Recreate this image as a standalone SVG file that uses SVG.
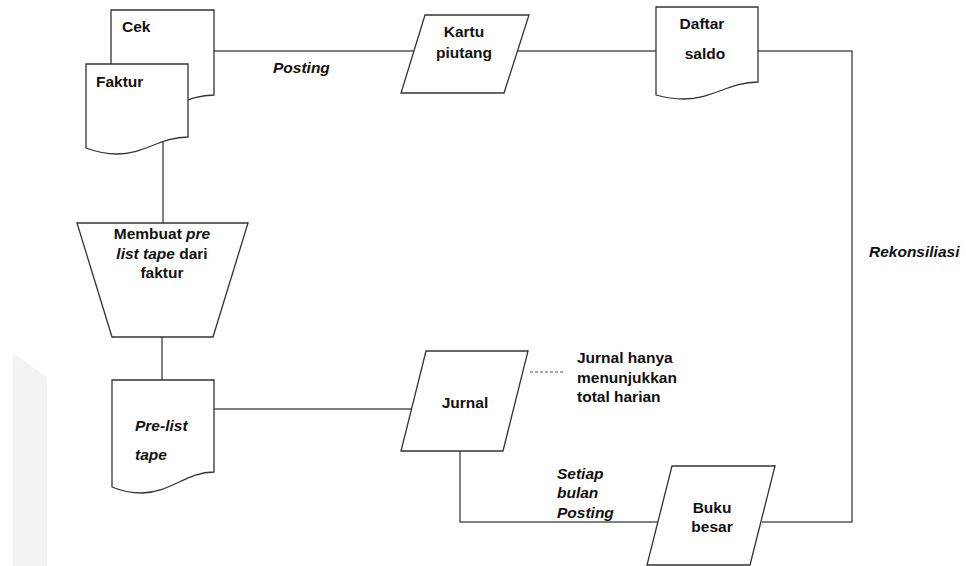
<svg xmlns="http://www.w3.org/2000/svg" width="966" height="566" viewBox="0 0 966 566">
  <style>
    .shape { fill: #ffffff; stroke: #333333; stroke-width: 1.3; }
    .link { fill: none; stroke: #555555; stroke-width: 1.5; }
    .note { fill: none; stroke: #555555; stroke-width: 1.2; stroke-dasharray: 3 2; }
    text { font-family: "Liberation Sans", Arial, sans-serif; font-size: 15.5px; font-weight: bold; fill: #111111; }
    .c { text-anchor: middle; }
    .i { font-style: italic; }
  </style>

  <!-- faint background band at the left edge -->
  <path d="M13,353 L47,377 V566 H13 Z" fill="#f3f3f3"/>

  <g id="connectors">
    <!-- Cek / Faktur to Kartu piutang -->
    <path class="link" d="M214,51 H414"/>
    <!-- Kartu piutang to Daftar saldo -->
    <path class="link" d="M518,51 H656"/>
    <!-- Daftar saldo to Buku besar (reconciliation) -->
    <path class="link" d="M758,51 H852 V522 H762"/>
    <!-- Faktur to pre-list process -->
    <path class="link" d="M163,140 V223"/>
    <!-- process to Pre-list tape -->
    <path class="link" d="M162,337 V380"/>
    <!-- Pre-list tape to Jurnal -->
    <path class="link" d="M214,409 H414"/>
    <!-- Jurnal to Buku besar -->
    <path class="link" d="M460,451 V522 H658"/>
    <!-- annotation -->
    <path class="note" d="M530,372 H563"/>
  </g>

  <g id="cek">
    <path class="shape" d="M111,10 H214 V95 C186,95 171,112 143,112 C129,112 120,109 111,106 Z"/>
    <text x="122" y="32">Cek</text>
  </g>

  <g id="faktur">
    <path class="shape" d="M86,64 H188 V137 C160,137 145,154 117,154 C103,154 94,151 86,148 Z"/>
    <text x="96" y="87">Faktur</text>
  </g>

  <g id="label-posting">
    <text class="i" x="273" y="73">Posting</text>
  </g>

  <g id="kartu-piutang">
    <path class="shape" d="M425,15 H529 L504,93 H401 Z"/>
    <text class="c" x="464" y="37">Kartu</text>
    <text class="c" x="464" y="58">piutang</text>
  </g>

  <g id="daftar-saldo">
    <path class="shape" d="M656,7 H758 V82 C730,82 712,99 684,99 C670,99 663,97 656,95 Z"/>
    <text class="c" x="702" y="29">Daftar</text>
    <text class="c" x="705" y="59">saldo</text>
  </g>

  <g id="label-rekonsiliasi">
    <text class="i" x="869" y="257">Rekonsiliasi</text>
  </g>

  <g id="membuat-pre-list">
    <path class="shape" d="M77,223 H248 L213,337 H112 Z"/>
    <text class="c" x="162" y="239">Membuat <tspan class="i">pre</tspan></text>
    <text class="c" x="162" y="259"><tspan class="i">list tape</tspan> dari</text>
    <text class="c" x="162" y="278">faktur</text>
  </g>

  <g id="pre-list-tape">
    <path class="shape" d="M112,380 H214 V472 C186,472 170,493 142,493 C128,493 119,490 112,487 Z"/>
    <text class="i" x="135" y="431">Pre-list</text>
    <text class="i" x="135" y="460">tape</text>
  </g>

  <g id="jurnal">
    <path class="shape" d="M426,351 H528 L503,451 H401 Z"/>
    <text class="c" x="465" y="408">Jurnal</text>
  </g>

  <g id="note-jurnal">
    <text x="577" y="363">Jurnal hanya</text>
    <text x="577" y="383">menunjukkan</text>
    <text x="577" y="402">total harian</text>
  </g>

  <g id="label-setiap-bulan">
    <text class="i" x="557" y="479">Setiap</text>
    <text class="i" x="557" y="498">bulan</text>
    <text class="i" x="557" y="518">Posting</text>
  </g>

  <g id="buku-besar">
    <path class="shape" d="M672,466 H775 L750,565 H647 Z"/>
    <text class="c" x="712" y="513">Buku</text>
    <text class="c" x="712" y="532">besar</text>
  </g>
</svg>
